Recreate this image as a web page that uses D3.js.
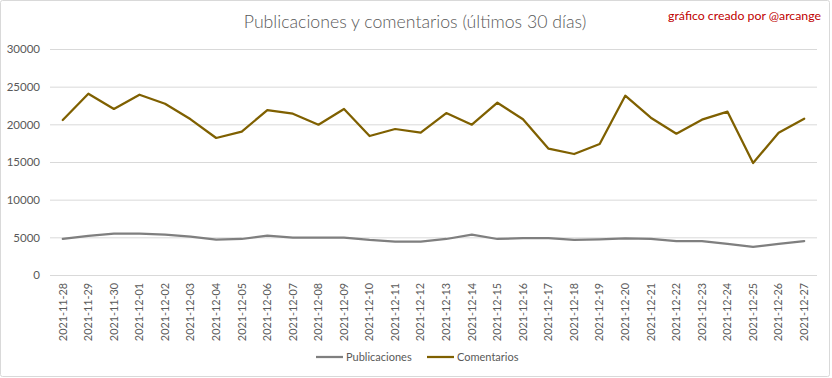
<!DOCTYPE html>
<html><head><meta charset="utf-8">
<script src="https://cdn.jsdelivr.net/npm/d3@7"></script>
<style>body{margin:0;background:#fff}svg{display:block}</style>
</head><body>
<svg id="c" width="832" height="378"></svg>
<script>
const dates = ["2021-11-28","2021-11-29","2021-11-30","2021-12-01","2021-12-02","2021-12-03","2021-12-04","2021-12-05","2021-12-06","2021-12-07","2021-12-08","2021-12-09","2021-12-10","2021-12-11","2021-12-12","2021-12-13","2021-12-14","2021-12-15","2021-12-16","2021-12-17","2021-12-18","2021-12-19","2021-12-20","2021-12-21","2021-12-22","2021-12-23","2021-12-24","2021-12-25","2021-12-26","2021-12-27"];
const publicaciones = [4780,5180,5480,5480,5350,5080,4690,4780,5220,4960,4960,4960,4650,4430,4430,4780,5350,4780,4910,4910,4650,4740,4870,4780,4510,4510,4120,3720,4120,4510];
const comentarios = [20580,24070,22040,23930,22740,20670,18190,19020,21900,21410,19950,22040,18450,19380,18890,21500,19950,22870,20670,16770,16060,17390,23800,20880,18760,20620,21680,14870,18890,20750];
const yTicks = [0,5000,10000,15000,20000,25000,30000];
const seriesNames = ["Publicaciones","Comentarios"];
const colors = ["#7f7f7f","#7f6000"];

const svg = d3.select("#c");
const font = "Lato, 'Open Sans', sans-serif";
const textCol = "#595959";

svg.append("rect").attr("x",0.5).attr("y",0.5).attr("width",829).attr("height",376)
  .attr("fill","#fff").attr("stroke","#d9d9d9").attr("rx",2);

const x = d3.scaleBand().domain(dates).range([50,817]);
const y = d3.scaleLinear().domain([0,30000]).range([275,49]);

// gridlines
svg.append("g").selectAll("line").data(yTicks).join("line")
  .attr("x1",50).attr("x2",817).attr("y1",d=>y(d)+0.5).attr("y2",d=>y(d)+0.5)
  .attr("stroke","#d9d9d9").attr("stroke-width",1);

// y axis
const ya = svg.append("g").attr("transform","translate(44,0)")
  .call(d3.axisLeft(y).tickValues(yTicks).tickSize(0).tickPadding(4).tickFormat(d3.format("d")));
ya.select(".domain").remove();
ya.selectAll("text").attr("fill",textCol).style("font-family",font).style("font-size","11.5px");

// x axis
const xa = svg.append("g").attr("transform","translate(0,275)")
  .call(d3.axisBottom(x).tickSize(0));
xa.select(".domain").remove();
xa.selectAll("text").attr("fill",textCol).style("font-family",font).style("font-size","10.8px")
  .attr("transform","rotate(-90)").attr("text-anchor","end").attr("dy","0.35em")
  .attr("x",-8).attr("y",0);

// lines
const cx = d => x(d) + x.bandwidth()/2;
[publicaciones, comentarios].forEach((vals,i)=>{
  svg.append("path").datum(vals.map((v,j)=>[dates[j],v]))
    .attr("fill","none").attr("stroke",colors[i]).attr("stroke-width",2.25)
    .attr("stroke-linejoin","round").attr("stroke-linecap","round")
    .attr("d", d3.line().x(d=>cx(d[0])).y(d=>y(d[1])));
});

// title
svg.append("text").attr("x",415).attr("y",28).attr("text-anchor","middle")
  .attr("fill",textCol).style("font-family",font).style("font-size","17.7px").style("font-weight",300)
  .text("Publicaciones y comentarios (últimos 30 días)");
svg.append("text").attr("x",821).attr("y",20).attr("text-anchor","end")
  .attr("fill","#c00000").style("font-family",font).style("font-size","12.3px")
  .text("gráfico creado por @arcange");

// legend
const leg = [{x:316,name:seriesNames[0],c:colors[0]},{x:427,name:seriesNames[1],c:colors[1]}];
const lg = svg.append("g");
leg.forEach(l=>{
  lg.append("line").attr("x1",l.x).attr("x2",l.x+27).attr("y1",357).attr("y2",357)
    .attr("stroke",l.c).attr("stroke-width",2.25);
  lg.append("text").attr("x",l.x+30).attr("y",357).attr("dy","0.35em")
    .attr("fill",textCol).style("font-family",font).style("font-size","11px").text(l.name);
});
</script>
</body></html>
